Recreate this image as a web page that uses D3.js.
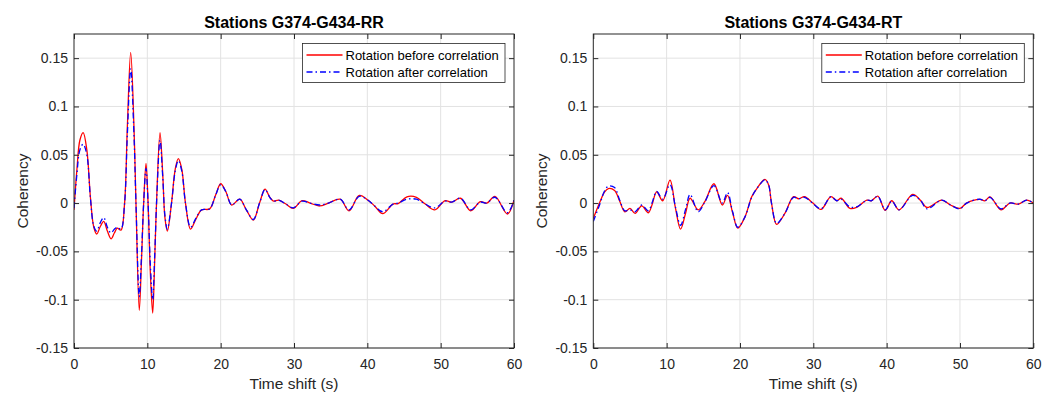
<!DOCTYPE html>
<html>
<head>
<meta charset="utf-8">
<script src="https://cdn.jsdelivr.net/npm/d3@7/dist/d3.min.js"></script>
<style>
  html, body { margin: 0; padding: 0; background: #fff; }
  svg { display: block; font-family: "Liberation Sans", Arial, Helvetica, sans-serif; }
</style>
</head>
<body>
<svg id="chart" width="1051" height="394"></svg>
<script>
// Coherency vs time shift, two station-pair components

const panelTitles = ["Stations G374-G434-RR", "Stations G374-G434-RT"];
const legendLabels = ["Rotation before correlation", "Rotation after correlation"];
const xTicks = [0, 10, 20, 30, 40, 50, 60];
const yTicks = [-0.15, -0.1, -0.05, 0, 0.05, 0.1, 0.15];
const yTickLabels = ["-0.15", "-0.1", "-0.05", "0", "0.05", "0.1", "0.15"];

// RR component
const timeRR = [0, 0.4, 0.8, 1.25, 1.75, 2.25, 2.7, 3.1, 3.6, 4.05, 4.55, 5.05, 5.5, 5.9, 6.4,
  6.9, 7.27, 7.73, 8.18, 8.45, 8.9, 9.2, 9.5, 9.82, 10.1, 10.4, 10.73, 11.0, 11.3, 11.73,
  12.1, 12.4, 12.73, 13.3, 13.8, 14.23, 14.7, 15.2, 15.9, 16.6, 17.4, 18.5, 19.3, 20.0,
  20.7, 21.5, 22.6, 23.5, 24.45, 25.3, 26.05, 26.7, 27.2, 27.9, 28.9, 29.9, 31.1, 32.2,
  33.5, 34.7, 36.3, 37.5, 38.9, 40.1, 41.0, 42.1, 43.5, 44.2, 45.4, 46.7, 47.9, 49.2,
  50.6, 51.5, 52.7, 54.1, 55.4, 56.3, 57.4, 59.1, 60];
const rrBefore = [-0.007, 0.035, 0.065, 0.073, 0.055, 0.005, -0.025, -0.032, -0.024, -0.019,
  -0.029, -0.037, -0.031, -0.026, -0.028,
  0.0, 0.078, 0.156, 0.078, 0.0, -0.111, -0.06, 0.0, 0.041, 0.0, -0.07, -0.114, -0.06, 0.01, 0.073,
  0.03, -0.015, -0.029, 0.0, 0.035, 0.046, 0.035, 0.0, -0.027, -0.017, -0.007, -0.006, 0.008, 0.020,
  0.012, -0.002, 0.004, -0.007, -0.0176, 0.0, 0.0145, 0.006, 0.002, 0.003, -0.001, -0.0055, 0.0025, 0.0,
  -0.003, 0.0, 0.004, -0.008, 0.008, 0.003, -0.003, -0.011, -0.001, -0.0005, 0.0065, 0.006, -0.001, -0.007,
  0.0025, 0.001, 0.005, -0.008, 0.0015, 0.0, 0.007, -0.0113, 0.003];
const rrAfter = [-0.005, 0.03, 0.055, 0.061, 0.05, 0.004, -0.024, -0.029, -0.02, -0.015,
  -0.025, -0.031, -0.027, -0.025, -0.027,
  0.0, 0.07, 0.139, 0.07, 0.0, -0.097, -0.055, 0.0, 0.036, 0.0, -0.062, -0.1, -0.055, 0.008, 0.065,
  0.027, -0.013, -0.027, 0.0, 0.033, 0.044, 0.033, 0.0, -0.025, -0.016, -0.007, -0.006, 0.008, 0.019,
  0.012, -0.002, 0.004, -0.007, -0.017, 0.0, 0.014, 0.006, 0.002, 0.003, -0.001, -0.005, 0.002, 0.0,
  -0.002, 0.0, 0.004, -0.007, 0.007, 0.003, -0.003, -0.009, -0.001, 0.0, 0.004, 0.004, -0.001, -0.005,
  0.002, 0.001, 0.005, -0.007, 0.001, 0.0, 0.006, -0.010, 0.003];

// RT component
const timeRT = [0, 0.9, 1.5, 2.05, 2.9, 3.6, 4.3, 5.0, 5.7, 6.6, 7.5, 8.0, 8.64, 9.46, 10.46,
  11.2, 11.9, 12.6, 13.2, 14.3, 15.2, 16.45, 17.6, 18.3, 19.0, 19.7, 20.7, 21.6, 22.3, 23.4,
  23.9, 24.3, 25.0, 26.1, 27.3, 28.0, 28.8, 29.9, 31.05, 32.4, 33.2, 33.8, 35.0, 35.9, 37.3,
  37.9, 38.8, 39.8, 40.7, 41.7, 43.55, 44.6, 45.5, 47.5, 48.7, 50.0, 50.9, 52.7, 53.4, 54.1,
  55.6, 56.8, 58.0, 59.1, 60];
const rtBefore = [-0.016, 0.001, 0.011, 0.015, 0.013, 0.002, -0.009, -0.0055, -0.0107, -0.003, -0.010,
  -0.002, 0.0117, 0.0024, 0.0238,
  -0.005, -0.027, -0.01, 0.005, -0.007, 0.0014, 0.020, -0.002, 0.008, -0.01, -0.026, -0.014, 0.0065, 0.015, 0.0245,
  0.019, 0.0, -0.022, -0.011, 0.0066, 0.0045, 0.0066, 0.0003, -0.0066, 0.0066, 0.0024, 0.005, -0.0055, -0.0045, 0.003,
  0.0024, 0.0072, -0.0075, 0.0024, -0.007, 0.009, 0.003, -0.0045, 0.003, -0.002, -0.0055, 0.0, 0.0038, 0.0024, 0.0065,
  -0.007, 0.0, -0.001, 0.003, 0.0];
const rtAfter = [-0.019, -0.001, 0.012, 0.0175, 0.016, 0.003, -0.008, -0.007, -0.009, -0.002, -0.008,
  0.0, 0.012, 0.004, 0.019,
  -0.004, -0.023, -0.006, 0.009, -0.009, 0.001, 0.018, 0.0, 0.011, -0.009, -0.025, -0.014, 0.006, 0.015, 0.024,
  0.019, 0.0, -0.021, -0.011, 0.006, 0.0045, 0.006, 0.0, -0.006, 0.0066, 0.0024, 0.004, -0.004, -0.004, 0.003,
  0.0024, 0.007, -0.007, 0.002, -0.007, 0.008, 0.003, -0.006, 0.003, -0.002, -0.006, 0.0, 0.004, 0.0024, 0.006,
  -0.006, 0.0, -0.001, 0.003, 0.0];

const panels = [
  { title: panelTitles[0], time: timeRR, before: rrBefore, after: rrAfter, left: 74, right: 514 },
  { title: panelTitles[1], time: timeRT, before: rtBefore, after: rtAfter, left: 593.3, right: 1033.3 }
];

const plotTop = 34, plotBottom = 348;
const axisColor = "#262626";
const gridColor = "#e2e2e2";
const redColor = "#ff0000";
const blueColor = "#0000ff";
const dashDot = "6,3,1.5,3";

const svg = d3.select("#chart");

panels.forEach((p, pi) => {
  const x = d3.scaleLinear().domain([0, 60]).range([p.left, p.right]);
  const y = d3.scaleLinear().domain([-0.15, 0.175]).range([plotBottom, plotTop]);
  const g = svg.append("g");

  // grid
  g.append("g").selectAll("line").data(xTicks.slice(1, -1)).join("line")
    .attr("x1", d => x(d)).attr("x2", d => x(d)).attr("y1", plotTop).attr("y2", plotBottom)
    .attr("stroke", gridColor).attr("stroke-width", 1);
  g.append("g").selectAll("line").data(yTicks).join("line")
    .attr("x1", p.left).attr("x2", p.right).attr("y1", d => y(d)).attr("y2", d => y(d))
    .attr("stroke", gridColor).attr("stroke-width", 1);

  // series
  const clipId = "plot-clip-" + pi;
  svg.append("clipPath").attr("id", clipId).append("rect")
    .attr("x", p.left).attr("y", plotTop).attr("width", p.right - p.left).attr("height", plotBottom - plotTop);
  const line = d3.line()
    .x((d, i) => x(p.time[i]))
    .y(d => y(d))
    .curve(d3.curveCatmullRom.alpha(0.5));
  const series = g.append("g").attr("clip-path", `url(#${clipId})`);
  series.append("path").attr("d", line(p.before))
    .attr("fill", "none").attr("stroke", redColor).attr("stroke-width", 1.3);
  series.append("path").attr("d", line(p.after))
    .attr("fill", "none").attr("stroke", blueColor).attr("stroke-width", 1.3)
    .attr("stroke-dasharray", dashDot);

  // axes with inward ticks
  const styleAxis = sel => {
    sel.select(".domain").remove();
    sel.selectAll(".tick line").attr("stroke", axisColor);
    sel.selectAll(".tick text").attr("fill", axisColor)
      .attr("font-size", 14).attr("font-family", '"Liberation Sans", Arial, sans-serif');
  };
  g.append("g").attr("transform", `translate(0,${plotBottom})`)
    .call(d3.axisBottom(x).tickValues(xTicks).tickSize(-5).tickPadding(11.5).tickFormat(d3.format("d")))
    .call(styleAxis);
  g.append("g").attr("transform", `translate(0,${plotTop})`)
    .call(d3.axisTop(x).tickValues(xTicks).tickSize(-5).tickFormat(""))
    .call(styleAxis);
  g.append("g").attr("transform", `translate(${p.left},0)`)
    .call(d3.axisLeft(y).tickValues(yTicks).tickSize(-5).tickPadding(6)
      .tickFormat((d, i) => yTickLabels[i]))
    .call(styleAxis);
  g.append("g").attr("transform", `translate(${p.right},0)`)
    .call(d3.axisRight(y).tickValues(yTicks).tickSize(-5).tickFormat(""))
    .call(styleAxis);

  // frame
  g.append("rect").attr("x", p.left).attr("y", plotTop)
    .attr("width", p.right - p.left).attr("height", plotBottom - plotTop)
    .attr("fill", "none").attr("stroke", axisColor).attr("stroke-width", 1);

  // labels
  const cx = (p.left + p.right) / 2;
  g.append("text").attr("x", cx).attr("y", 28).attr("text-anchor", "middle")
    .attr("font-size", 16).attr("font-weight", "bold").attr("fill", "#000")
    .text(p.title);
  g.append("text").attr("x", cx).attr("y", 389).attr("text-anchor", "middle")
    .attr("font-size", 15.5).attr("fill", axisColor).text("Time shift (s)");
  g.append("text")
    .attr("transform", `translate(${p.left - 46},${(plotTop + plotBottom) / 2}) rotate(-90)`)
    .attr("text-anchor", "middle").attr("font-size", 15.5).attr("fill", axisColor)
    .text("Coherency");

  // legend
  const lx = p.right - 211.5, ly = 43.5, lw = 202.5, lh = 39;
  const lg = g.append("g");
  lg.append("rect").attr("x", lx).attr("y", ly).attr("width", lw).attr("height", lh)
    .attr("fill", "#fff").attr("stroke", axisColor).attr("stroke-width", 0.8);
  const items = [
    { label: legendLabels[0], color: redColor, dash: null },
    { label: legendLabels[1], color: blueColor, dash: dashDot }
  ];
  items.forEach((it, i) => {
    const yy = ly + 11.5 + i * 17;
    lg.append("line").attr("x1", lx + 4).attr("x2", lx + 40).attr("y1", yy).attr("y2", yy)
      .attr("stroke", it.color).attr("stroke-width", 1.3)
      .attr("stroke-dasharray", it.dash);
    lg.append("text").attr("x", lx + 43).attr("y", yy + 4.6)
      .attr("font-size", 13).attr("fill", "#000").text(it.label);
  });
});
</script>
</body>
</html>
